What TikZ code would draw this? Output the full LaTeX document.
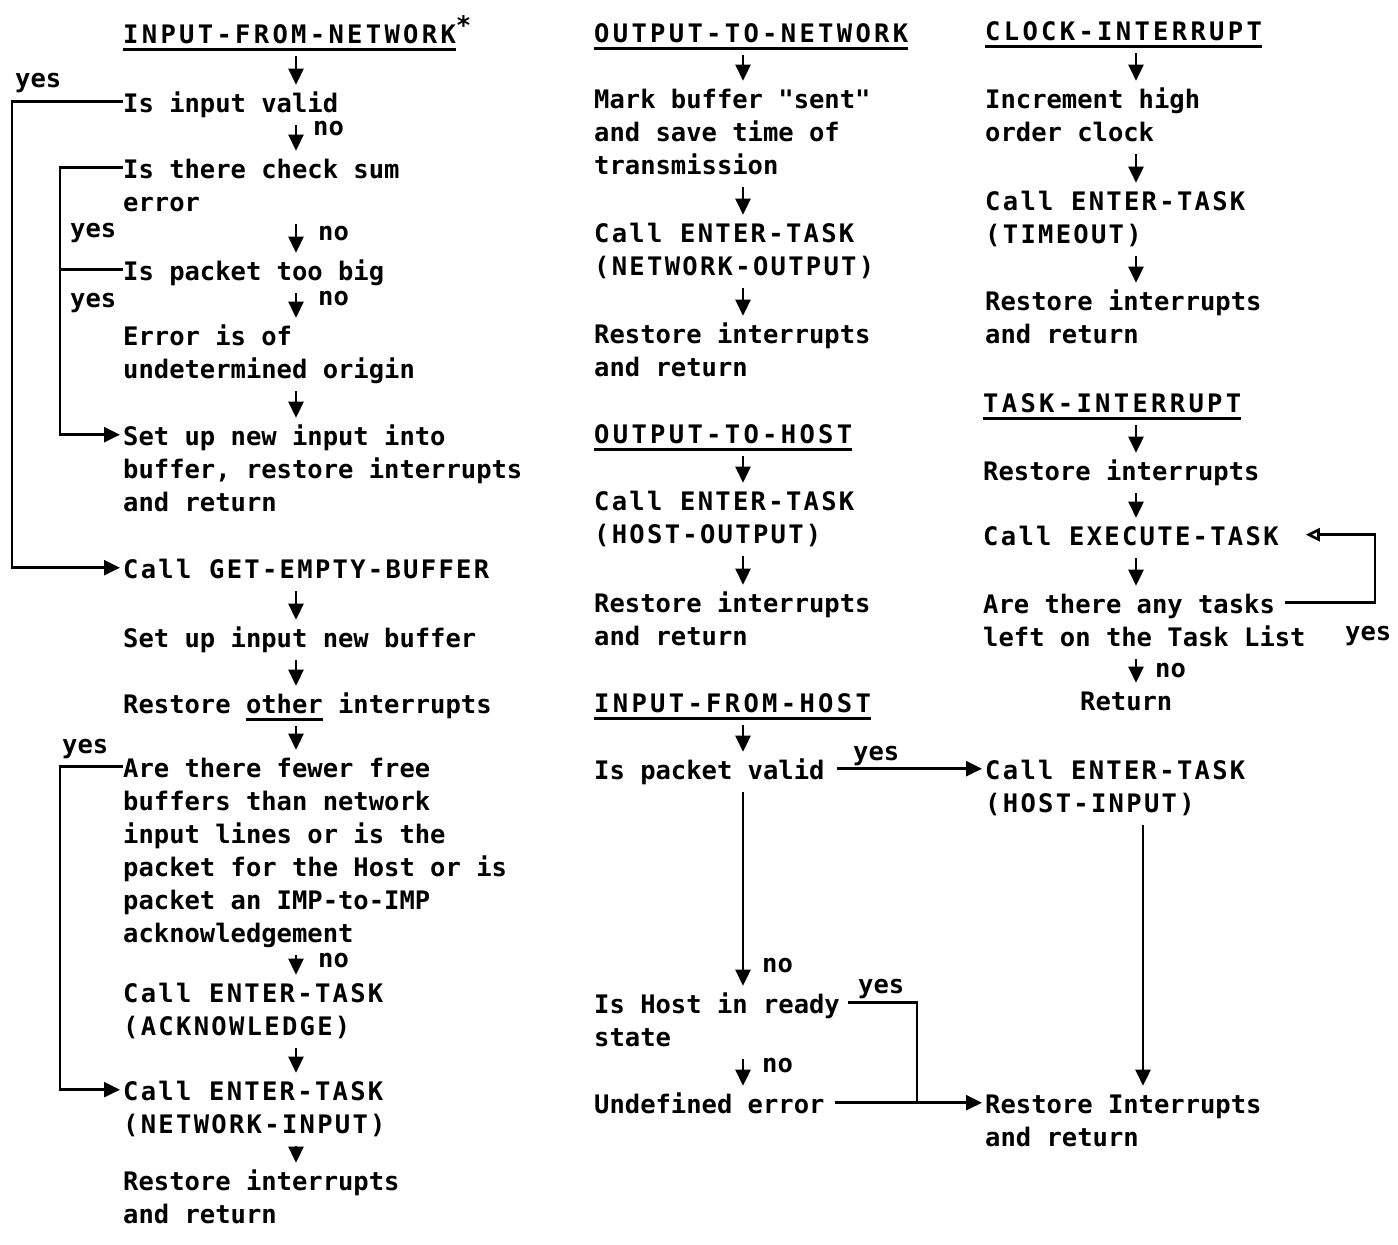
\documentclass[tikz,border=0pt]{standalone}
\usepackage{fontspec}
\setmonofont{DejaVu Sans Mono Bold}
\renewcommand\familydefault{\ttdefault}
\newfontfamily\capsfam{DejaVu Sans Mono Bold}[LetterSpace=9]
\newfontfamily\headfam{DejaVu Sans Mono Bold}[LetterSpace=13]
\usetikzlibrary{arrows.meta}

% one text block: rows 33pt apart, baseline on the first row
\newcommand\blk[1]{\begin{tabular}[t]{@{}l@{}}#1\end{tabular}}
% thick underline under a word
\newcommand\ulw[1]{\setbox0\hbox{#1}\rlap{\rule[-7.5pt]{\wd0}{2.6pt}}\box0\relax}
\newcommand\tsz{\fontsize{25.5}{33}\selectfont\ttfamily}

\tikzset{
  txt/.style={anchor=base west, inner sep=0pt, font=\tsz},
  capstxt/.style={txt, font=\tsz\capsfam},
  headtxt/.style={txt, font=\tsz\headfam},
  lab/.style={anchor=base west, inner sep=0pt, font=\tsz},
  ln/.style={line width=2.6pt},
  tip/.style={-{Triangle[length=16pt,width=15pt]}},
  arr/.style={ln, tip, shorten <=3pt, shorten >=4pt},
  harr/.style={ln, tip, shorten >=3pt},
  oarr/.style={ln, -{Triangle[open,length=14pt,width=13pt]}},
}

\begin{document}
\begin{tikzpicture}[x=1pt,y=-1pt]
\fill[white] (0,0) rectangle (1398,1245);
\useasboundingbox (0,0) rectangle (1398,1245);

% ---------------- INPUT-FROM-NETWORK ----------------
\node[headtxt] (t1) at (123,43) {\blk{\ulw{INPUT-FROM-NETWORK}\raisebox{9pt}{*}}};
\node[txt] (q1) at (123,112) {\blk{Is input valid}};
\node[txt] (q2) at (123,178) {\blk{Is there check sum\\error}};
\node[txt] (q3) at (123,280) {\blk{Is packet too big}};
\node[txt] (e1) at (123,345) {\blk{Error is of\\undetermined origin}};
\node[txt] (su) at (123,445) {\blk{Set up new input into\\buffer, restore interrupts\\and return}};
\node[capstxt] (gb) at (123,578) {\blk{Call GET-EMPTY-BUFFER}};
\node[txt] (sb) at (123,647) {\blk{Set up input new buffer}};
\node[txt] (ro) at (123,713) {\blk{Restore \ulw{other} interrupts}};
\node[txt] (q4) at (123,777) {\blk{Are there fewer free\\buffers than network\\input lines or is the\\packet for the Host or is\\packet an IMP-to-IMP\\acknowledgement}};
\node[capstxt] (ca) at (123,1002) {\blk{Call ENTER-TASK\\(ACKNOWLEDGE)}};
\node[capstxt] (cn) at (123,1100) {\blk{Call ENTER-TASK\\(NETWORK-INPUT)}};
\node[txt] (rn) at (123,1190) {\blk{Restore interrupts\\and return}};

\node[lab] (y1) at (15,87) {yes};
\node[lab] (y2) at (70,237) {yes};
\node[lab] (y3) at (70,307) {yes};
\node[lab] (y4) at (62,753) {yes};
\node[lab] (n1) at (313,135) {no};
\node[lab] (n2) at (318,240) {no};
\node[lab] (n3) at (318,305) {no};
\node[lab] (n4) at (318,967) {no};

\coordinate (C1) at (296,0);
\foreach \a/\b in {t1/q1,q1/q2,q2/q3,q3/e1,e1/su,gb/sb,sb/ro,ro/q4,q4/ca,ca/cn,cn/rn}
  \draw[arr] (\a.south -| C1) -- (\b.north -| C1);

\coordinate (L1) at (12,0);
\coordinate (L2) at (60,0);
\coordinate (q1w) at ([yshift=-13pt]q1.north west);
\coordinate (q2w) at ([yshift=-13pt]q2.north west);
\coordinate (q3w) at ([yshift=-13pt]q3.north west);
\coordinate (q4w) at ([yshift=-13pt]q4.north west);
\coordinate (suw) at ([yshift=-13pt]su.north west);
\coordinate (gbw) at ([yshift=-13pt]gb.north west);
\coordinate (cnw) at ([yshift=-13pt]cn.north west);
\draw[harr] (q1w) -- (q1w -| L1) |- (gbw);
\draw[harr] (q2w) -- (q2w -| L2) |- (suw);
\draw[ln] (q3w) -- (q3w -| L2);
\draw[harr] (q4w) -- (q4w -| L2) |- (cnw);

% ---------------- OUTPUT-TO-NETWORK / OUTPUT-TO-HOST / INPUT-FROM-HOST ----------------
\node[headtxt] (t2) at (594,42) {\blk{\ulw{OUTPUT-TO-NETWORK}}};
\node[txt] (mb) at (594,108) {\blk{Mark buffer "sent"\\and save time of\\transmission}};
\node[capstxt] (c2) at (594,242) {\blk{Call ENTER-TASK\\(NETWORK-OUTPUT)}};
\node[txt] (r2) at (594,343) {\blk{Restore interrupts\\and return}};
\node[headtxt] (t3) at (594,443) {\blk{\ulw{OUTPUT-TO-HOST}}};
\node[capstxt] (c3) at (594,510) {\blk{Call ENTER-TASK\\(HOST-OUTPUT)}};
\node[txt] (r3) at (594,612) {\blk{Restore interrupts\\and return}};
\node[headtxt] (t4) at (594,712) {\blk{\ulw{INPUT-FROM-HOST}}};
\node[txt] (pv) at (594,779) {\blk{Is packet valid}};
\node[txt] (hr) at (594,1013) {\blk{Is Host in ready\\state}};
\node[txt] (ue) at (594,1113) {\blk{Undefined error}};

\node[lab] (y5) at (853,760) {yes};
\node[lab] (y6) at (858,993) {yes};
\node[lab] (n5) at (762,972) {no};
\node[lab] (n6) at (762,1072) {no};

\coordinate (C2) at (743,0);
\foreach \a/\b in {t2/mb,mb/c2,c2/r2,t3/c3,c3/r3,t4/pv,pv/hr,hr/ue}
  \draw[arr] (\a.south -| C2) -- (\b.north -| C2);

% ---------------- CLOCK-INTERRUPT / TASK-INTERRUPT ----------------
\node[headtxt] (t5) at (985,40) {\blk{\ulw{CLOCK-INTERRUPT}}};
\node[txt] (ic) at (985,108) {\blk{Increment high\\order clock}};
\node[capstxt] (c5) at (985,210) {\blk{Call ENTER-TASK\\(TIMEOUT)}};
\node[txt] (r5) at (985,310) {\blk{Restore interrupts\\and return}};
\node[headtxt] (t6) at (983,412) {\blk{\ulw{TASK-INTERRUPT}}};
\node[txt] (r6) at (983,480) {\blk{Restore interrupts}};
\node[capstxt] (ex) at (983,545) {\blk{Call EXECUTE-TASK}};
\node[txt] (at) at (983,613) {\blk{Are there any tasks\\left on the Task List}};
\node[txt] (rt) at (1080,710) {\blk{Return}};
\node[capstxt] (hi) at (985,779) {\blk{Call ENTER-TASK\\(HOST-INPUT)}};
\node[txt] (rr) at (985,1113) {\blk{Restore Interrupts\\and return}};

\node[lab] (y7) at (1345,640) {yes};
\node[lab] (n7) at (1155,677) {no};

\coordinate (C3) at (1136,0);
\foreach \a/\b in {t5/ic,ic/c5,c5/r5,t6/r6,r6/ex,ex/at,at/rt}
  \draw[arr] (\a.south -| C3) -- (\b.north -| C3);

% loop back to EXECUTE-TASK
\coordinate (L3) at (1375,0);
\coordinate (ate) at ([xshift=302pt,yshift=-13pt]at.north west);
\coordinate (exe) at ([xshift=27pt,yshift=-13pt]ex.north east);
\draw[oarr] (ate) -| (L3 |- exe) -- (exe);

% host input branches
\coordinate (V) at (1143,0);
\coordinate (J) at (917,0);
\coordinate (pve) at ([xshift=12pt,yshift=-13pt]pv.north east);
\coordinate (hiw) at ([yshift=-13pt]hi.north west);
\coordinate (hre) at ([xshift=8pt,yshift=-13pt]hr.north east);
\coordinate (uee) at ([xshift=10pt,yshift=-13pt]ue.north east);
\coordinate (rrw) at ([yshift=-13pt]rr.north west);
\draw[harr] (pve) -- (hiw);
\draw[ln] (hre) -| (J |- uee);
\draw[harr] (uee) -- (rrw);
\draw[arr] (hi.south -| V) -- (rr.north -| V);
\end{tikzpicture}
\end{document}
